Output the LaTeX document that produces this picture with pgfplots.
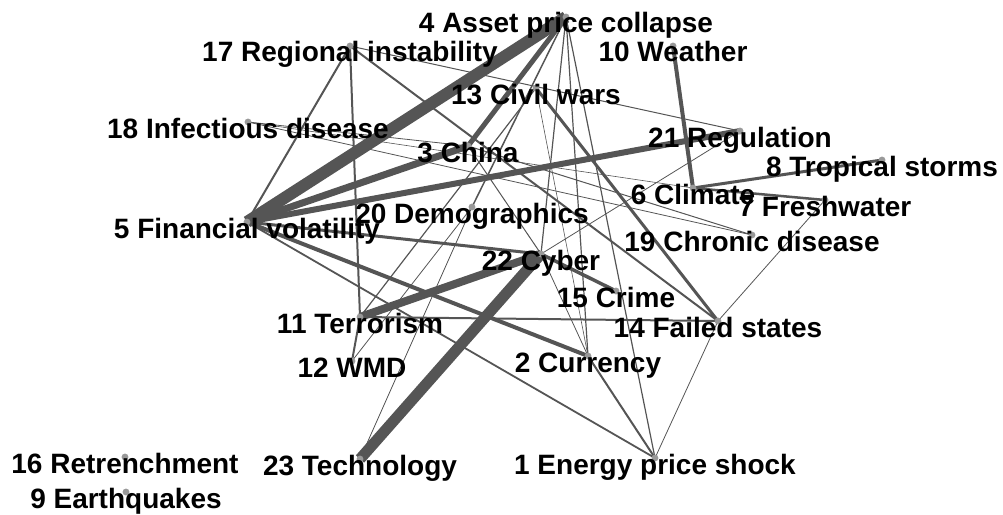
\documentclass[border=0pt]{standalone}
\usepackage{pgfplots}
\pgfplotsset{compat=1.18}
\usepackage{pgfplotstable}
\usepackage{fontspec}
\setmainfont{Liberation Sans}
\definecolor{edgec}{HTML}{555555}
\definecolor{nodec}{HTML}{999999}

\pgfplotstableread[col sep=comma]{
x,y,label
655,458,1 Energy price shock
588,356,2 Currency
468,146,3 China
566,17,4 Asset price collapse
247,222,5 Financial volatility
693,188,6 Climate
825,200,7 Freshwater
882,160,8 Tropical storms
126,492,9 Earthquakes
673,46,10 Weather
360,317,11 Terrorism
352,361,12 WMD
536,88,13 Civil wars
718,321,14 Failed states
616,291,15 Crime
125,457,16 Retrenchment
350,46,17 Regional instability
248,122,18 Infectious disease
752,235,19 Chronic disease
472,207,20 Demographics
740,131,21 Regulation
541,254,22 Cyber
360,459,23 Technology
}\nodetable

\begin{document}
\begin{tikzpicture}
\begin{axis}[
  scale only axis, width=1003bp, height=514bp,
  xmin=0, xmax=1003, ymin=0, ymax=514, y dir=reverse,
  hide axis, clip=false,
  every axis plot/.append style={edgec, line cap=butt},
]
\path (rel axis cs:0,0) rectangle (rel axis cs:1,1);
% thick edges
\addplot[line width=12bp] coordinates {(247,222) (566,17)};   % 5-4
\addplot[line width=7bp] coordinates {(247,222) (468,146)};   % 5-3
\addplot[line width=5bp] coordinates {(468,146) (566,17)};    % 3-4
\addplot[line width=6bp] coordinates {(247,222) (740,131)};   % 5-21
\addplot[line width=11bp] coordinates {(541,254) (360,459)};  % 22-23
\addplot[line width=8bp] coordinates {(541,254) (360,317)};   % 22-11
\addplot[line width=4bp] coordinates {(673,46) (693,188)};    % 10-6
\addplot[line width=4bp] coordinates {(247,222) (588,356)};   % 5-2
\addplot[line width=3bp] coordinates {(247,222) (541,254)};   % 5-22
\addplot[line width=3.5bp] coordinates {(541,254) (616,291)}; % 22-15
\addplot[line width=3bp] coordinates {(693,188) (882,160)};   % 6-8
\addplot[line width=2.5bp] coordinates {(693,188) (825,200)}; % 6-7
\addplot[line width=3bp] coordinates {(536,88) (718,321)};    % 13-14
% medium edges
\addplot[line width=2bp] coordinates {(247,222) (350,46)};    % 5-17
\addplot[line width=2bp] coordinates {(350,46) (360,317)};    % 17-11
\addplot[line width=2bp] coordinates {(360,317) (352,361)};   % 11-12
\addplot[line width=2bp] coordinates {(350,46) (718,321)};    % 17-14
\addplot[line width=2bp] coordinates {(360,317) (718,321)};   % 11-14
\addplot[line width=1.8bp] coordinates {(247,222) (655,458)}; % 5-1
\addplot[line width=2bp] coordinates {(588,356) (655,458)};   % 2-1
\addplot[line width=1.5bp] coordinates {(566,17) (472,207)};  % 4-20
\addplot[line width=1.2bp] coordinates {(566,17) (655,458)};  % 4-1
\addplot[line width=1.2bp] coordinates {(566,17) (541,254)};  % 4-22
\addplot[line width=1.2bp] coordinates {(566,17) (588,356)};  % 4-2
\addplot[line width=1.2bp] coordinates {(360,317) (536,88)};  % 11-13
% thin edges
\addplot[line width=0.8bp] coordinates {(718,321) (655,458)}; % 14-1
\addplot[line width=0.8bp] coordinates {(718,321) (825,200)}; % 14-7
\addplot[line width=1bp] coordinates {(350,46) (740,131)};    % 17-21
\addplot[line width=0.8bp] coordinates {(248,122) (468,146)}; % 18-3
\addplot[line width=0.8bp] coordinates {(248,122) (752,235)}; % 18-19
\addplot[line width=0.6bp] coordinates {(248,122) (693,188)}; % 18-6
\addplot[line width=1bp] coordinates {(468,146) (541,254)};   % 3-22
\addplot[line width=1bp] coordinates {(468,146) (752,235)};   % 3-19
\addplot[line width=0.8bp] coordinates {(472,207) (360,459)}; % 20-23
\addplot[line width=0.8bp] coordinates {(472,207) (352,361)}; % 20-12
\addplot[line width=0.8bp] coordinates {(740,131) (541,254)}; % 21-22
\addplot[line width=0.8bp] coordinates {(541,254) (588,356)}; % 22-2
\addplot[line width=0.6bp] coordinates {(536,88) (588,356)};  % 13-2
% nodes and labels
\addplot[only marks, mark=*, mark size=3.2bp,
  mark options={fill=nodec, draw=nodec},
  nodes near coords, point meta=explicit symbolic,
  nodes near coords style={anchor=base, yshift=-16bp, text=black,
    font=\fontsize{28bp}{30bp}\selectfont\bfseries, inner sep=0pt}]
  table[x=x, y=y, meta=label] {\nodetable};
\end{axis}
\end{tikzpicture}
\end{document}
